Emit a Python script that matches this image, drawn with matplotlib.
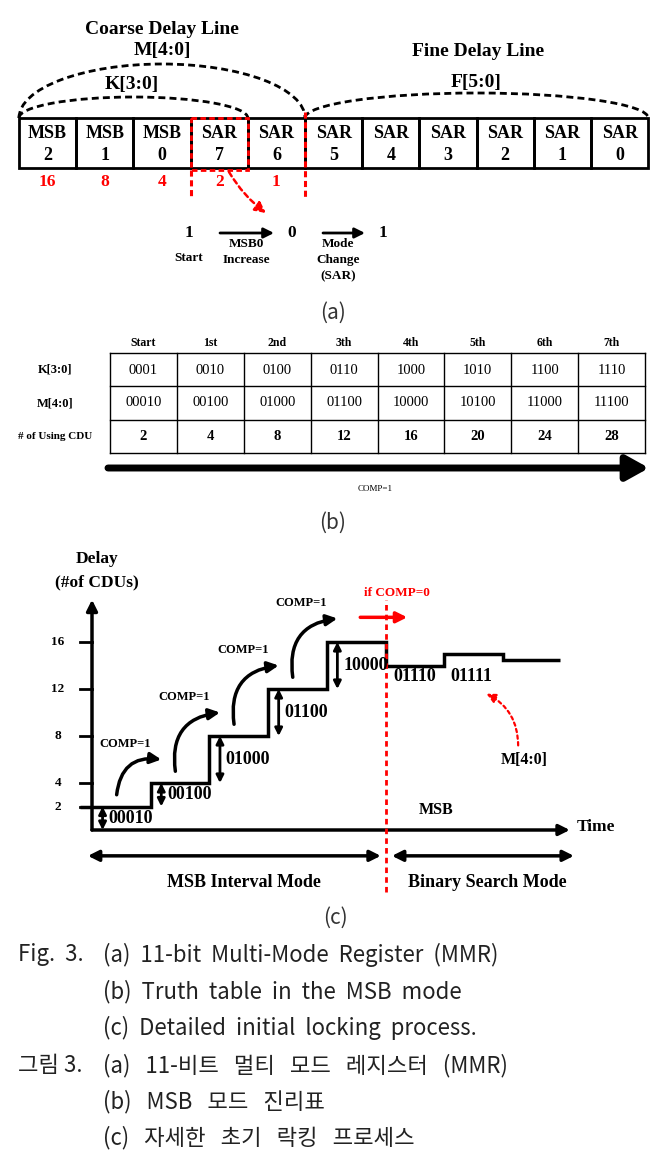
import matplotlib
matplotlib.use('Agg')
import matplotlib.pyplot as plt
from matplotlib.patches import Rectangle, Arc, FancyArrowPatch

# ---- (a) 11-bit multi-mode register
reg_modes = ['MSB', 'MSB', 'MSB', 'SAR', 'SAR', 'SAR', 'SAR', 'SAR', 'SAR', 'SAR', 'SAR']
reg_bits = [2, 1, 0, 7, 6, 5, 4, 3, 2, 1, 0]
reg_weights = [16, 8, 4, 2, 1]
seq_bits = ['1', '0', '1']
seq_notes = ['MSB0\nIncrease', 'Mode\nChange\n(SAR)']

# ---- (b) truth table in MSB mode
step_names = ['Start', '1st', '2nd', '3th', '4th', '5th', '6th', '7th']
k_codes = ['0001', '0010', '0100', '0110', '1000', '1010', '1100', '1110']
m_codes = ['00010', '00100', '01000', '01100', '10000', '10100', '11000', '11100']
cdu_used = [2, 4, 8, 12, 16, 20, 24, 28]
row_names = ['K[3:0]', 'M[4:0]', '# of Using CDU']

# ---- (c) initial locking process
delay_ticks = [2, 4, 8, 12, 16]
msb_codes = ['00010', '00100', '01000', '01100', '10000']
msb_levels = [2, 4, 8, 12, 16]
sar_codes = ['01110', '01111']
sar_levels = [14, 15, 14.5]
step_times = [-0.2, 1, 2, 3, 4, 5, 6, 7, 7.97]

# ---- caption
cap_prefix = ['Fig.  3.', '', '', '그림 3.', '', '']
cap_body = ['(a) 11-bit Multi-Mode Register (MMR)',
            '(b) Truth table in the MSB mode',
            '(c) Detailed initial locking process.',
            '(a) 11-비트 멀티 모드 레지스터 (MMR)',
            '(b) MSB 모드 진리표',
            '(c) 자세한 초기 락킹 프로세스']

SERIF = 'Liberation Serif'
SANS = ['Noto Sans CJK KR', 'DejaVu Sans']
W, H = 671, 1161

fig = plt.figure(figsize=(W / 100, H / 100), dpi=100)
ax = fig.add_axes([0, 0, 1, 1])
ax.set_xlim(0, W)
ax.set_ylim(H, 0)
ax.axis('off')


def btxt(a, x, y, s, size, color='black', ha='center', weight='bold'):
    a.text(x, y, s, fontsize=size, family=SERIF, fontweight=weight,
           color=color, ha=ha, va='center')


def arrow(a, p0, p1, style='-|>', lw=2.0, ms=14, color='black', **kw):
    a.add_patch(FancyArrowPatch(p0, p1, arrowstyle=style, lw=lw, color=color,
                                mutation_scale=ms, shrinkA=0, shrinkB=0, **kw))


# ================= (a) =================
x0, cw, top, bot = 19, 57.2, 118, 168
for i, (m, b) in enumerate(zip(reg_modes, reg_bits)):
    ax.add_patch(Rectangle((x0 + i * cw, top), cw, bot - top, fill=False, lw=2, ec='black'))
    btxt(ax, x0 + (i + .5) * cw, 133, m, 13)
    btxt(ax, x0 + (i + .5) * cw, 156, str(b), 13)
for i, w in enumerate(reg_weights):
    btxt(ax, x0 + (i + .5) * cw, 182, str(w), 12.5, color='red')

# dashed grouping arcs
dash = (0, (2.5, 1.5))
x_k = x0 + 4 * cw
x_m = x0 + 5 * cw
x_end = x0 + 11 * cw
ax.add_patch(Arc(((x0 + x_m) / 2, top), x_m - x0, 108, theta1=180, theta2=360, lw=2, ls=dash))
ax.add_patch(Arc(((x0 + x_k) / 2, top), x_k - x0, 42, theta1=180, theta2=360, lw=2, ls=dash))
ax.add_patch(Arc(((x_m + x_end) / 2, top), x_end - x_m, 50, theta1=180, theta2=360, lw=2, ls=dash))
btxt(ax, 162, 29, 'Coarse Delay Line', 14)
btxt(ax, 162, 51, 'M[4:0]', 14)
btxt(ax, 132, 84, 'K[3:0]', 14)
btxt(ax, 478, 51, 'Fine Delay Line', 14)
btxt(ax, 476, 83, 'F[5:0]', 14)

# red SAR7 highlight
rdash = (0, (2, 1.2))
ax.add_patch(Rectangle((x0 + 3 * cw, top), cw, bot - top + 2, fill=False, lw=2, ec='red', ls=rdash))
ax.plot([x0 + 3 * cw] * 2, [bot + 2, 199], color='red', lw=2.2, ls=rdash)
ax.plot([x_m] * 2, [112, 199], color='red', lw=2.2, ls=rdash)
arrow(ax, (229, 172), (266, 213), lw=1.8, ms=16, color='red',
      connectionstyle='arc3,rad=0.1', linestyle=(0, (2, 1.5)))

# sequence 1 -> 0 -> 1
seq_x = [189, 292, 383]
for x, s in zip(seq_x, seq_bits):
    btxt(ax, x, 233, s, 12.5)
btxt(ax, 189, 258, 'Start', 9.5)
note_x = [246, 338]
for j, note in enumerate(seq_notes):
    arrow(ax, (seq_x[j] + 31, 233), (seq_x[j + 1] - 18, 233), lw=2, ms=15)
    for k, line in enumerate(note.split('\n')):
        btxt(ax, note_x[j], 244 + 16 * k, line, 9.5)
ax.text(333, 313, '(a)', fontsize=15, family=SANS, color='#333', ha='center', va='center')

# ================= (b) =================
tl, tr, row_y = 110, 645, [353, 386, 420, 453]
tw = (tr - tl) / len(step_names)
for y in row_y:
    ax.plot([tl, tr], [y, y], color='black', lw=1)
for j in range(len(step_names) + 1):
    ax.plot([tl + j * tw] * 2, [row_y[0], row_y[-1]], color='black', lw=1)
for j, name in enumerate(step_names):
    cx = tl + (j + .5) * tw
    btxt(ax, cx, 343, name, 8.5)
    btxt(ax, cx, 370, k_codes[j], 10.5, weight='normal')
    btxt(ax, cx, 403, m_codes[j], 10.5, weight='normal')
    btxt(ax, cx, 437, str(cdu_used[j]), 10.5)
for r, name in enumerate(row_names):
    btxt(ax, 55, (row_y[r] + row_y[r + 1]) / 2, name, 9 if r < 2 else 8)
arrow(ax, (108, 468), (649, 468), style='-|>,head_length=0.9,head_width=0.5', lw=5, ms=15)
btxt(ax, 375, 489, 'COMP=1', 6.5, weight='normal')
ax.text(333, 523, '(b)', fontsize=15, family=SANS, color='#333', ha='center', va='center')

# ================= (c) =================
# axes mapping: time step / delay (CDUs) -> figure pixels
T0_PX, T_PX = 92, 58.7
D0_PX, D_PX = 830, 11.75
axc = fig.add_axes([0, 0, 1, 1])
axc.set_xlim(-T0_PX / T_PX, (W - T0_PX) / T_PX)
axc.set_ylim((D0_PX - H) / D_PX, D0_PX / D_PX)
axc.axis('off')
axc.patch.set_alpha(0)

arrow(axc, (0, 0), (0, 19.6), lw=2.5, ms=16)
arrow(axc, (0, 0), (8.14, 0), lw=2.5, ms=16)
for d in delay_ticks:
    axc.plot([-0.2, 0], [d, d], color='black', lw=2)
    btxt(axc, -0.58, d, str(d), 9.5)
btxt(axc, 0.09, 23.06, 'Delay', 12.5)
btxt(axc, 0.09, 21.1, '(#of CDUs)', 12.5)
btxt(axc, 8.26, 0.25, 'Time', 12.5, ha='left')

axc.stairs(msb_levels + sar_levels, step_times, baseline=None, color='black', lw=2.5)

prev = [0] + msb_levels[:-1]
for i, (code, lo, hi) in enumerate(zip(msb_codes, prev, msb_levels)):
    arrow(axc, (i + 0.18, lo), (i + 0.18, hi), style='<|-|>', lw=2, ms=11)
    btxt(axc, i + 0.28, (lo + hi) / 2, code, 13, ha='left')
for i in range(len(msb_levels) - 1):
    lvl, gap = msb_levels[i], msb_levels[i + 1] - msb_levels[i]
    arrow(axc, (i + 0.42, lvl + 1), (i + 1.18, lvl + gap + 2), lw=2.5, ms=16,
          connectionstyle='arc3,rad=-0.5')
    btxt(axc, i + 0.57, lvl + gap + 3.3, 'COMP=1', 9)

# switch to binary search
axc.plot([5, 5], [-5.3, 19.6], color='red', lw=2, ls=(0, (2, 1.5)))
btxt(axc, 5.2, 20.2, 'if COMP=0', 9.5, color='red')
arrow(axc, (4.57, 18.1), (5.37, 18.1), lw=2.5, ms=16, color='red')
for t, code in zip([5.5, 6.47], sar_codes):
    btxt(axc, t, 13.1, code, 13)
arrow(axc, (7.26, 7.2), (6.72, 11.6), lw=1.6, ms=14, color='red',
      connectionstyle='arc3,rad=0.3', linestyle=(0, (1.5, 1.5)))
btxt(axc, 7.36, 5.96, 'M[4:0]', 11.5)
btxt(axc, 5.86, 1.7, 'MSB', 11.5)

arrow(axc, (-0.07, -2.2), (4.92, -2.2), style='<|-|>', lw=2.5, ms=16)
arrow(axc, (5.11, -2.2), (8.21, -2.2), style='<|-|>', lw=2.5, ms=16)
btxt(axc, 2.59, -4.5, 'MSB Interval Mode', 13)
btxt(axc, 6.73, -4.5, 'Binary Search Mode', 13)
ax.text(335, 918, '(c)', fontsize=15, family=SANS, color='#333', ha='center', va='center')

# ================= caption =================
# the source typesets the caption with wide word gaps
cap_y = [955, 992, 1028, 1066, 1102, 1138]
for y, pre, body in zip(cap_y, cap_prefix, cap_body):
    if pre:
        ax.text(18, y, pre, fontsize=16, family=SANS, color='#222', va='center')
    hangul = any('\uac00' <= ch <= '\ud7a3' for ch in body)
    body = body.replace(' ', '   ' if hangul else '  ')
    ax.text(103, y, body, fontsize=16, family=SANS, color='#222', va='center')

fig.savefig('out.png', dpi=100)
